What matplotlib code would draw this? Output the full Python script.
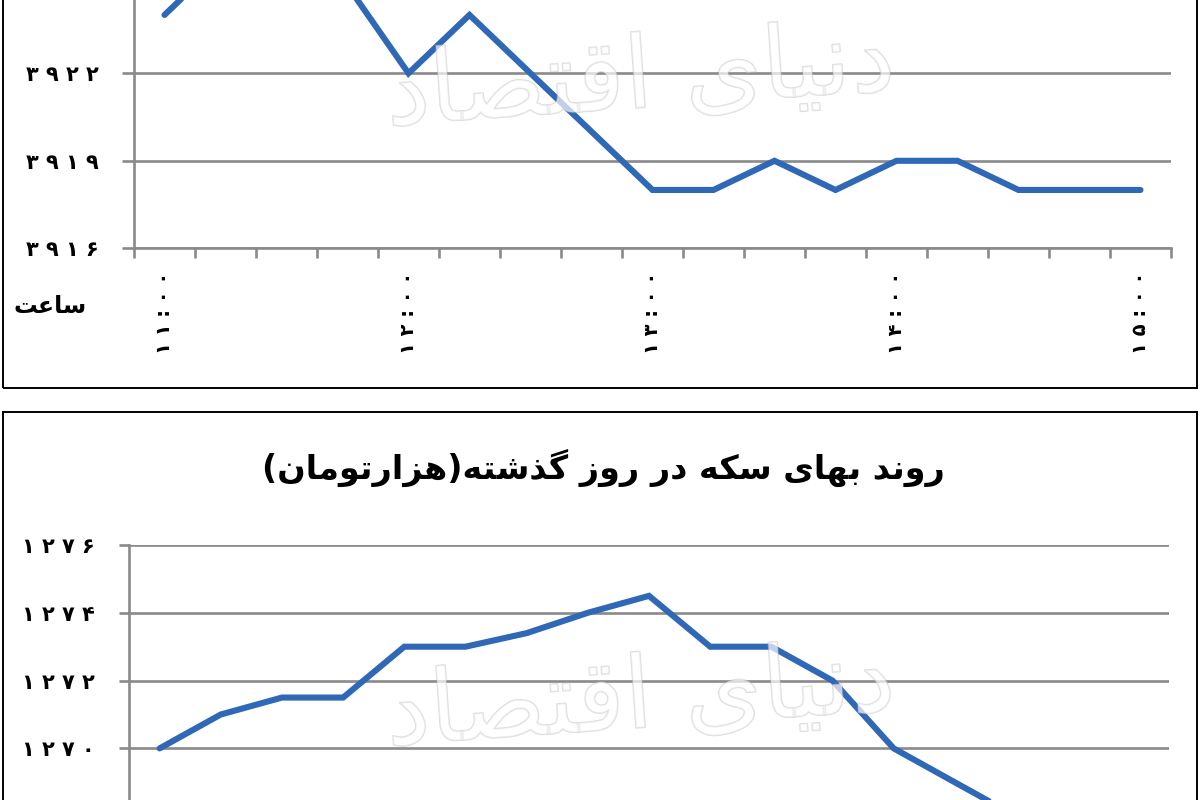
import unicodedata
import matplotlib
matplotlib.use('Agg')
import matplotlib.pyplot as plt
from matplotlib.patches import Rectangle
import matplotlib.patheffects as pe

# ---------------- data ----------------
time_labels = ['۱۱:۰۰', '۱۲:۰۰', '۱۳:۰۰', '۱۴:۰۰', '۱۵:۰۰']
label_positions = [0, 4, 8, 12, 16]

top_values = [3924, 3926, 3926, 3925, 3922, 3924, 3922, 3920, 3918,
              3918, 3919, 3918, 3919, 3919, 3918, 3918, 3918]
top_yticks = [3916, 3919, 3922]
top_ytick_labels = ['۳۹۱۶', '۳۹۱۹', '۳۹۲۲']

coin_values = [1270, 1271, 1271.5, 1271.5, 1273, 1273, 1273.4, 1274, 1274.5,
               1273, 1273, 1272, 1270, 1269, 1268, 1268, 1268]
coin_yticks = [1268, 1270, 1272, 1274, 1276]
coin_ytick_labels = ['۱۲۶۸', '۱۲۷۰', '۱۲۷۲', '۱۲۷۴', '۱۲۷۶']

coin_title = 'روند بهای سکه در روز گذشته(هزارتومان)'
x_axis_label = 'ساعت'
watermark = 'دنیای اقتصاد'

# ---------------- simple Arabic/Persian shaping ----------------
def _build_forms():
    forms = {}
    for cp in list(range(0xFB50, 0xFE00)) + list(range(0xFE70, 0xFF00)):
        ch = chr(cp)
        d = unicodedata.decomposition(ch)
        if not d or not d.startswith('<'):
            continue
        parts = d.split()
        if len(parts) != 2:
            continue
        tag = parts[0].strip('<>')
        base = chr(int(parts[1], 16))
        if tag in ('isolated', 'final', 'initial', 'medial'):
            forms.setdefault(base, {}).setdefault(tag, ch)
    return forms

FORMS = _build_forms()


def shape(text):
    n = len(text)
    out = []
    for i, ch in enumerate(text):
        f = FORMS.get(ch)
        if not f:
            out.append(ch)
            continue
        prev = text[i - 1] if i > 0 else None
        nxt = text[i + 1] if i < n - 1 else None
        jp = prev in FORMS and 'initial' in FORMS[prev] and 'final' in f
        jn = nxt in FORMS and 'final' in FORMS[nxt] and 'initial' in f
        if jp and jn:
            form = f.get('medial', f.get('final'))
        elif jp:
            form = f['final']
        elif jn:
            form = f['initial']
        else:
            form = f.get('isolated', ch)
        out.append(form)
    vis = ''.join(reversed(out))
    return vis.translate(str.maketrans('()', ')('))


def spaced(s):
    return ' '.join(s)

# ---------------- style ----------------
plt.rcParams['font.family'] = ['DejaVu Sans']
LINE_C = '#2F68B6'
GRID_C = '#8a8a8a'
W, H = 1200, 800

fig = plt.figure(figsize=(12, 8), dpi=100)


def fx(px):
    return px / W


def fy(py):
    return 1 - py / H


def style_axes(ax, yticks, ylabels, tick_len_pt):
    ax.set_yticks(yticks)
    ax.set_yticklabels([spaced(l) for l in ylabels], fontsize=15,
                       fontweight='bold')
    ax.yaxis.grid(True, color=GRID_C, linewidth=1.9)
    ax.set_axisbelow(True)
    for s in ('top', 'right'):
        ax.spines[s].set_visible(False)
    for s in ('left', 'bottom'):
        ax.spines[s].set_color(GRID_C)
        ax.spines[s].set_linewidth(1.9)
    ax.tick_params(axis='y', which='major', length=tick_len_pt, width=1.9,
                   color=GRID_C, pad=17)
    ax.set_xlim(-0.5, len(top_values) - 0.5)


# ---------------- top chart ----------------
ax1 = fig.add_axes([fx(134), fy(248.3), fx(1171 - 134), 12 * 29.17 / H])
x = list(range(len(top_values)))
ax1.plot(x, top_values, color=LINE_C, linewidth=4.4,
         solid_capstyle='round', solid_joinstyle='miter', zorder=3)
ax1.set_ylim(3916, 3928)
style_axes(ax1, top_yticks, top_ytick_labels, 8.6)
ax1.set_xticks([i - 0.5 for i in range(len(top_values) + 1)])
ax1.set_xticklabels([])
ax1.tick_params(axis='x', which='major', length=7.5, width=1.9, color=GRID_C)
ax1.set_xticks(label_positions, minor=True)
ax1.set_xticklabels([spaced(t) for t in time_labels], minor=True, rotation=90,
                    fontsize=14, fontweight='bold', va='top', ha='center')
ax1.tick_params(axis='x', which='minor', length=0, pad=17)

fig.text(fx(50), fy(306), shape(x_axis_label), fontsize=17,
         fontweight='bold', ha='center', va='center')

# ---------------- bottom chart ----------------
ax2 = fig.add_axes([fx(129), fy(545 + 10 * 33.9), fx(1169 - 129), 10 * 33.9 / H])
ax2.plot(x, coin_values, color=LINE_C, linewidth=4.4,
         solid_capstyle='round', solid_joinstyle='miter', zorder=3)
ax2.set_ylim(1266, 1276)
style_axes(ax2, coin_yticks, coin_ytick_labels, 7.5)
ax2.set_xticks([])

fig.text(fx(603), fy(468), shape(coin_title), fontsize=24,
         fontweight='bold', ha='center', va='center')

# ---------------- panel frames ----------------
fig.add_artist(Rectangle((fx(3), fy(388)), fx(1194), 0.6, transform=fig.transFigure,
                         fill=False, edgecolor='black', linewidth=1.4, clip_on=False))
fig.add_artist(Rectangle((fx(3), fy(412) - 0.6), fx(1194), 0.6, transform=fig.transFigure,
                         fill=False, edgecolor='black', linewidth=1.4, clip_on=False))

# ---------------- watermark ----------------
for (wx, wy) in [(640, 80), (640, 700)]:
    t = fig.text(fx(wx), fy(wy), shape(watermark), fontsize=72,
                 ha='center', va='center', color='white', alpha=0.45,
                 rotation=4, zorder=10)
    t.set_path_effects([pe.withStroke(linewidth=1.2, foreground='#b5b5b5')])

fig.savefig('out.png', dpi=100)
